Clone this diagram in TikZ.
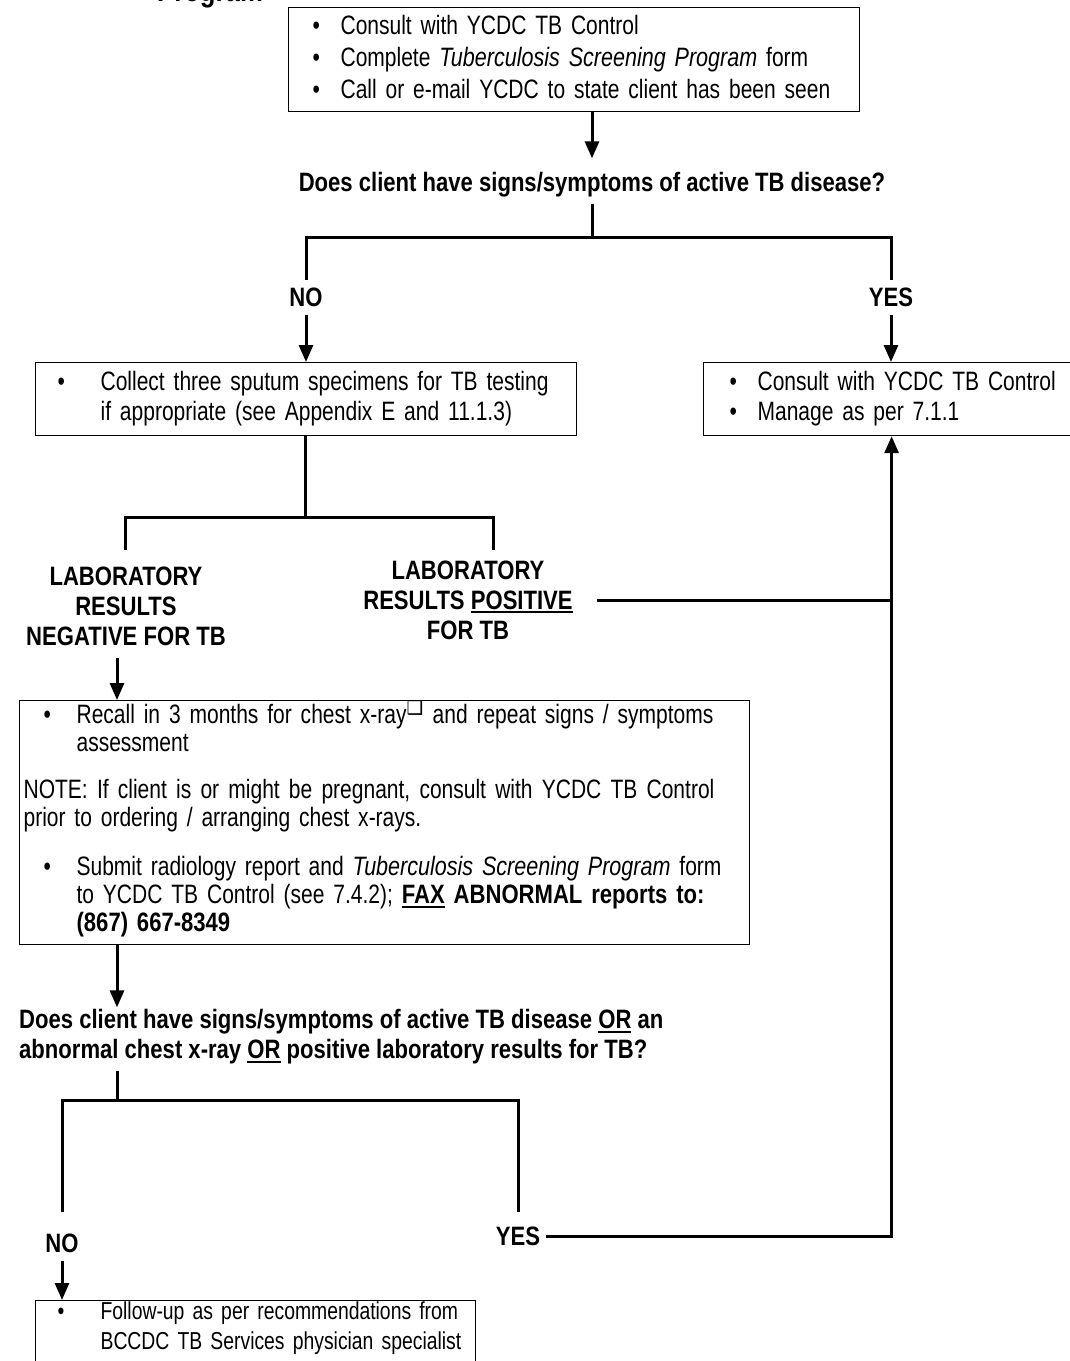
\documentclass[tikz,border=0pt]{standalone}
\usepackage{fontspec}
\setmainfont{Liberation Sans}[FakeStretch=0.79,
  ItalicFeatures={FakeStretch=0.81},
  BoldFeatures={FakeStretch=0.83}, BoldItalicFeatures={FakeStretch=0.83}]
\newfontfamily\symfont{DejaVu Sans}
\usetikzlibrary{arrows.meta,positioning}

\newsavebox{\ulbox}
\newcommand{\bul}[1][30pt]{\makebox[#1][l]{\textbullet}}
\newcommand{\uln}[1]{\sbox{\ulbox}{#1}\rlap{\raisebox{-4pt}{\rule{\wd\ulbox}{2pt}}}\usebox{\ulbox}}
\newcommand{\boxfont}[2]{\fontsize{#1}{#2}\selectfont}

\tikzset{
  box/.style={draw, line width=1.2pt, anchor=north west, align=left,
    inner xsep=22pt, inner ysep=0pt,
    font=\boxfont{26.6pt}{30pt}},
  lbl/.style={align=center, inner sep=2pt,
    font=\bfseries\fontsize{26.6pt}{30pt}\selectfont},
  conn/.style={line width=3pt},
  arr/.style={conn, ->},
}

\begin{document}
\begin{tikzpicture}[x=1pt,y=-1pt,>={Triangle[length=17pt,width=14pt]}]
  \useasboundingbox (0,0) rectangle (1070,1361);
  \node[lbl, font=\bfseries\fontsize{31pt}{34pt}\selectfont, anchor=base] (title) at (210,1.2) {Program};

  % first screening step
  \node[box, inner xsep=24pt, minimum width=571pt, minimum height=104pt, text width=523pt,
        text depth=70pt, font=\boxfont{26.6pt}{32pt}] (consult) at (288,7)
    {\mbox{\bul[28pt]Consult with YCDC TB Control}\\
     \mbox{\bul[28pt]Complete \textit{Tuberculosis Screening Program} form}\\
     \mbox{\bul[28pt]Call or e-mail YCDC to state client has been seen}};
  \node[lbl] (q1) at (592,185) {Does client have signs/symptoms of active TB disease?};
  \coordinate (j1) at (592,237);
  \node[lbl] (no1) at (306,297) {NO};
  \node[lbl] (yes1) at (891,297) {YES};

  \node[box, minimum width=541pt, minimum height=73pt, text width=497pt] (collect) at (35,362)
    {\mbox{\bul[43pt]Collect three sputum specimens for TB testing}\\
     \mbox{\hspace*{43pt}if appropriate (see Appendix E and 11.1.3)}};
  \node[box, inner xsep=26pt, minimum width=376pt, minimum height=73pt, text width=324pt] (manage) at (703,362)
    {\mbox{\bul[28pt]Consult with YCDC TB Control}\\
     \mbox{\bul[28pt]Manage as per 7.1.1}};

  \draw[arr, shorten >=12pt] (consult.south -| q1) -- (q1);
  \draw[conn, shorten <=4pt] (q1) -- (j1);
  \draw[conn, shorten <=5pt, shorten >=5pt] (no1) |- (j1) -| (yes1);
  \draw[arr, shorten <=6pt] (no1) -- (collect.north -| no1);
  \draw[arr, shorten <=6pt] (yes1) -- (manage.north -| yes1);

  % laboratory results
  \coordinate (j2) at (305,517);
  \coordinate (negtop) at (125,550);
  \coordinate (postop) at (493,550);
  \draw[conn] (collect.south -| j2) -- (j2);
  \draw[conn] (negtop) |- (j2) -| (postop);
  \node[lbl] (lneg) at (126,606) {LABORATORY\\RESULTS\\NEGATIVE FOR TB};
  \node[lbl] (lpos) at (468,600) {LABORATORY\\RESULTS \uln{POSITIVE}\\FOR TB};
  \draw[conn, shorten <=22pt] (lpos.east) -- (lpos.east -| manage);

  % recall box
  \node[box, inner xsep=4pt, minimum width=730pt, minimum height=244pt, text width=722pt,
        text depth=220pt, font=\boxfont{26.6pt}{28pt}] (recall) at (19,700)
    {\mbox{\hspace*{20pt}\bul[33pt]Recall in 3 months for chest x-ray\textsuperscript{\symfont ❑} and repeat signs / symptoms}\\
     \mbox{\hspace*{53pt}assessment}\\[19pt]
     \mbox{\spaceskip=9.2pt\relax NOTE: If client is or might be pregnant, consult with YCDC TB Control}\\
     prior to ordering / arranging chest x-rays.\\[21pt]
     \mbox{\hspace*{20pt}\bul[33pt]Submit radiology report and \textit{Tuberculosis Screening Program} form}\\
     \mbox{\hspace*{53pt}to YCDC TB Control (see 7.4.2); \textbf{\uln{FAX} ABNORMAL reports to:}}\\
     \mbox{\hspace*{53pt}\textbf{(867) 667-8349}}};
  \coordinate (j3) at (117,1100);
  \draw[arr, shorten <=10pt] (lneg.south -| j3) -- (recall.north -| j3);

  % second question
  \node[lbl, anchor=west, align=left] (q2) at (17,1037)
    {Does client have signs/symptoms of active TB disease \uln{OR} an\\
     abnormal chest x-ray \uln{OR} positive laboratory results for TB?};
  \draw[arr] (recall.south -| j3) -- (q2.north -| j3);
  \node[lbl] (no2) at (62,1243) {NO};
  \node[lbl] (yes2) at (518,1236) {YES};
  \draw[conn, shorten <=4pt] (q2.south -| j3) -- (j3);
  \draw[conn, shorten <=19pt, shorten >=12pt] (no2) |- (j3) -| (yes2);
  \draw[arr, shorten <=4pt] (yes2) -| (manage);

  \node[box, minimum width=440pt, minimum height=75pt, text width=396pt,
        text depth=55pt, font=\boxfont{24.5pt}{30pt}] (follow) at (35,1300)
    {\mbox{\bul[43pt]Follow-up as per recommendations from}\\
     \mbox{\hspace*{43pt}BCCDC TB Services physician specialist}};
  \draw[arr, shorten <=6pt] (no2) -- (follow.north -| no2);
\end{tikzpicture}
\end{document}
